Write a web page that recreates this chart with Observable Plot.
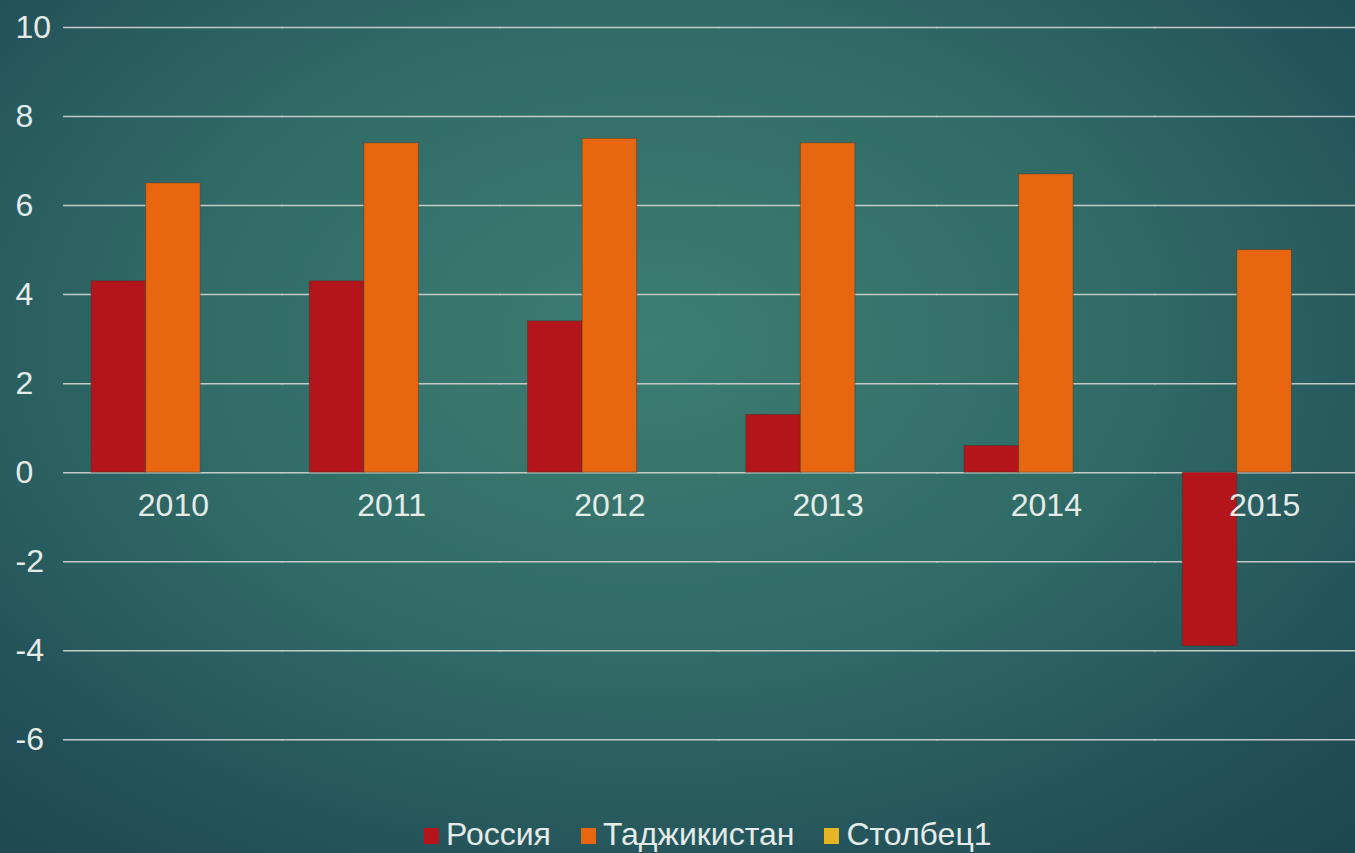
<!DOCTYPE html>
<html>
<head>
<meta charset="utf-8">
<script src="https://cdn.jsdelivr.net/npm/d3@7"></script>
<script src="https://cdn.jsdelivr.net/npm/@observablehq/plot@0.6"></script>
<style>
  html, body { margin: 0; padding: 0; overflow: hidden; width: 1355px; height: 853px; }
  body {
    background: radial-gradient(ellipse 75% 80% at 48% 40%, #3d7d72 0%, #316c67 45%, #224f58 85%, #1c4852 100%);
    font-family: "Liberation Sans", Arial, sans-serif;
  }
  #wrap { position: relative; width: 1355px; height: 853px; overflow: hidden; }
  #chart svg { max-width: none !important; }
  #legend { position: absolute; left: 424px; top: 816px; display: flex; align-items: center; font-size: 32px; color: #e4ebe9; white-space: nowrap; }
  #legend .item { display: flex; align-items: center; margin-right: 30px; }
  #legend .sw { width: 15px; height: 16px; margin-right: 7px; margin-top: 2px; }
</style>
</head>
<body>
<div id="wrap"><div id="chart"></div><div id="legend"></div></div>
<script>
const years = ["2010", "2011", "2012", "2013", "2014", "2015"];
const series = ["Россия", "Таджикистан", "Столбец1"];
const seriesColors = ["#b3151a", "#e8660f", "#e6b523"];
const russia = [4.3, 4.3, 3.4, 1.3, 0.6, -3.9];
const tajikistan = [6.5, 7.4, 7.5, 7.4, 6.7, 5.0];
const yTicks = [-6, -4, -2, 0, 2, 4, 6, 8, 10];

const rows = [];
years.forEach((y, i) => {
  rows.push({year: y, series: series[0], value: russia[i]});
  rows.push({year: y, series: series[1], value: tajikistan[i]});
});

const textColor = "#e4ebe9";
const gridColor = "#c3cbc8";

const plot = Plot.plot({
  width: 1374,
  height: 815,
  marginLeft: 64,
  marginRight: 1,
  marginTop: 27,
  marginBottom: 0,
  style: {background: "transparent", fontFamily: "Liberation Sans, Arial, sans-serif", overflow: "visible", maxWidth: "none"},
  fx: {domain: years, paddingInner: 0.25, paddingOuter: 0.124, round: false, axis: null, label: null},
  x: {domain: series, padding: 0, round: false, axis: null, label: null},
  y: {domain: [-7.7, 10], axis: null, label: null},
  color: {domain: series, range: seriesColors},
  marks: [
    Plot.ruleY(yTicks, {stroke: gridColor, strokeWidth: 1.5, insetLeft: -28, insetRight: -28}),
    Plot.barY(rows, {fx: "year", x: "series", y: "value", fill: "series", stroke: "#3a3a30", strokeOpacity: 0.45, strokeWidth: 1}),
    Plot.text(years, {fx: d => d, y: () => 0, text: d => d, dy: 33, fontSize: 32, fill: textColor, lineAnchor: "middle"}),
    Plot.axisY(yTicks, {anchor: "left", tickSize: 0, tickPadding: 0, textAnchor: "start", dx: -76, fontSize: 32, fill: textColor, color: textColor, tickFormat: d => String(d)})
  ]
});
document.getElementById("chart").appendChild(plot);

const legend = document.getElementById("legend");
series.forEach((s, i) => {
  const item = document.createElement("div");
  item.className = "item";
  const sw = document.createElement("span");
  sw.className = "sw";
  sw.style.background = seriesColors[i];
  const t = document.createElement("span");
  t.textContent = s;
  item.appendChild(sw);
  item.appendChild(t);
  legend.appendChild(item);
});
</script>
</body>
</html>
